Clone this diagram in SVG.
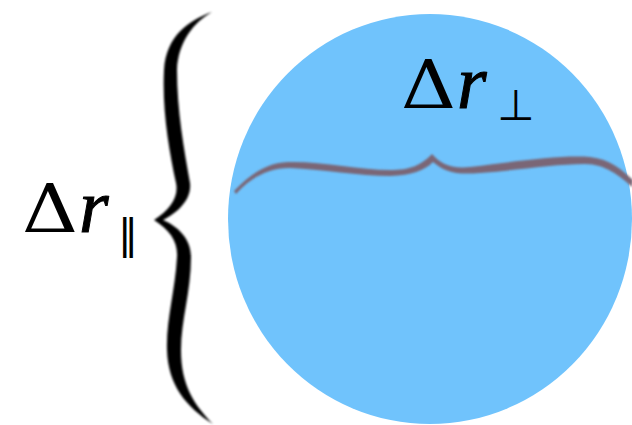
<svg xmlns="http://www.w3.org/2000/svg" width="632" height="425" viewBox="0 0 632 425">
  <defs>
    <filter id="soft" x="-5%" y="-5%" width="110%" height="110%">
      <feGaussianBlur stdDeviation="0.8"/>
    </filter>
  </defs>
  <rect width="632" height="425" fill="#ffffff"/>
  <g id="circle">
    <ellipse cx="430" cy="219" rx="202" ry="205" fill="#70c3fc"/>
  </g>
  <g id="brace-vertical">
    <path filter="url(#soft)" fill="#000" d="M 212,12 C 189,20 166,36 164,70 C 162,110 169,150 176,183 C 179,197 170,210 154,220 C 170,230 178,242 177,257 C 175,292 166,320 167,350 C 168,385 186,407 213,424 C 194,405 181,385 181,350 C 181,320 191,292 191,257 C 191,238 177,226 163,220 C 177,213 192,200 190,183 C 184,150 177,110 177,70 C 178,42 194,22 212,12 Z"/>
  </g>
  <g id="brace-horizontal">
    <path filter="url(#soft)" fill="#7a6676" d="M 234,191 C 250,175 265,163 288,162 C 320,161 360,170 390,170 C 410,170 420,166 432,154 C 440,163 450,169 470,167 C 520,161 560,155 590,157 C 610,159 622,170 633,180 L 632,187 C 620,176 605,164 585,164 C 555,164 520,170 480,173 C 455,175 445,172 433,162 C 424,171 412,175 390,176 C 360,176 320,169 290,168 C 268,168 250,178 236,194 Z"/>
  </g>
  <g id="label-parallel" fill="#000">
    <text x="22" y="232" font-size="67" font-family="DejaVu Serif" textLength="56" lengthAdjust="spacingAndGlyphs">Δ</text>
    <text x="79" y="232" font-size="76" font-family="Liberation Serif" font-style="italic" stroke="#000" stroke-width="1">r</text>
    <text x="118" y="248" font-size="40" font-family="DejaVu Sans">‖</text>
  </g>
  <g id="label-perp" fill="#000">
    <text x="401" y="108" font-size="67" font-family="DejaVu Serif" textLength="55" lengthAdjust="spacingAndGlyphs">Δ</text>
    <text x="457" y="108" font-size="76" font-family="Liberation Serif" font-style="italic" stroke="#000" stroke-width="1">r</text>
    <text x="497" y="120" font-size="43" font-family="DejaVu Sans">⊥</text>
  </g>
</svg>
